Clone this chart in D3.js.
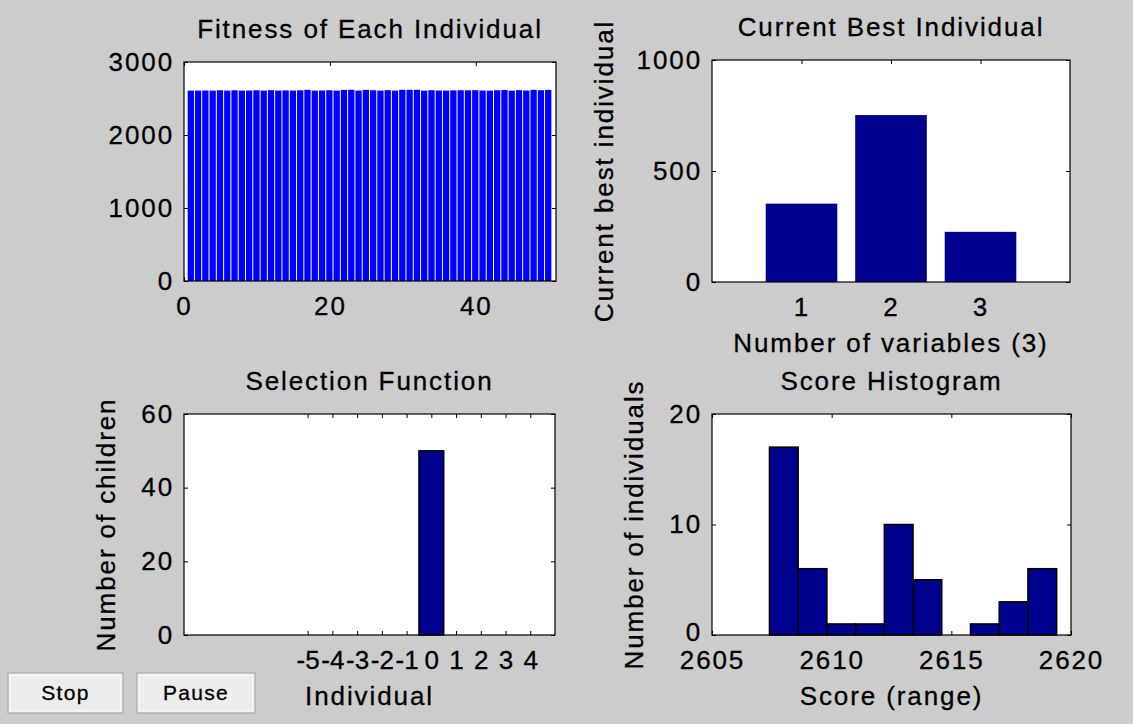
<!DOCTYPE html>
<html>
<head>
<meta charset="utf-8">
<script src="https://cdn.jsdelivr.net/npm/d3@7"></script>
<style>
  body { margin: 0; background: #cccccc; }
  svg { display: block; font-family: "Liberation Sans", Arial, sans-serif; }
  .lbl { font-size: 26px; letter-spacing: 1.9px; fill: #000; stroke: #000; stroke-width: 0.3px; }
  .tight .lbl { letter-spacing: 0; }
  .btn { font-size: 21px; letter-spacing: 1.3px; fill: #000; stroke: #000; stroke-width: 0.3px; }
</style>
</head>
<body>
<svg id="fig" width="1133" height="724"></svg>
<script>
const fitness = [
  2608.1, 2608.3, 2609.4, 2608.0, 2613.2, 2608.2, 2612.9, 2608.4, 2609.1, 2612.5,
  2608.0, 2614.1, 2608.2, 2610.6, 2608.5, 2613.0, 2619.1, 2608.1, 2609.6, 2612.8,
  2608.3, 2617.4, 2619.2, 2608.0, 2618.0, 2612.7, 2608.4, 2614.3, 2608.1, 2619.0,
  2618.9, 2619.3, 2608.2, 2613.1, 2609.2, 2608.0, 2611.7, 2613.3, 2612.6, 2614.0,
  2609.0, 2608.3, 2613.2, 2616.4, 2608.1, 2614.5, 2609.5, 2618.8, 2613.4, 2617.9
];
const fitnessTicksX = [0, 20, 40];
const fitnessTicksY = [0, 1000, 2000, 3000];

// current best individual
const bestVars = [1, 2, 3];
const bestValues = [353, 752, 226];
const bestTicksY = [0, 500, 1000];

// selection function
const selIndividual = [0];
const selChildren = [50];
const selTicksX = [-5, -4, -3, -2, -1, 0, 1, 2, 3, 4];
const selTicksY = [0, 20, 40, 60];

// score histogram
const scoreEdges = [2607.4, 2608.6, 2609.8, 2611.0, 2612.2, 2613.4, 2614.6, 2615.8, 2617.0, 2618.2, 2619.4];
const scoreCounts = [17, 6, 1, 1, 10, 5, 0, 1, 3, 6];
const scoreTicksX = [2605, 2610, 2615, 2620];
const scoreTicksY = [0, 10, 20];

const svg = d3.select('#fig');
const navy = '#00008f';
const tk = 4;

// draws one axes box (ticks on all four sides, MATLAB style) and returns scales + mark layer
function panel(p) {
  const {left, top, width, height} = p.box;
  const x = d3.scaleLinear().domain(p.xDomain).range([0, width]);
  const y = d3.scaleLinear().domain(p.yDomain).range([height, 0]);
  const g = svg.append('g').attr('transform', `translate(${left},${top})`);

  g.append('rect').attr('width', width).attr('height', height).attr('fill', '#fff');

  const fmt = d => String(d);
  const clean = sel => {
    sel.select('.domain').remove();
    sel.attr('font-size', null).attr('font-family', null);
    sel.selectAll('text').attr('class', 'lbl');
  };

  g.append('g').attr('transform', `translate(0,${height})`)
    .classed('tight', !!p.tightX)
    .call(d3.axisBottom(x).tickValues(p.xTicks).tickSize(-tk).tickSizeOuter(0)
      .tickPadding(16).tickFormat(fmt))
    .call(clean);
  g.append('g')
    .call(d3.axisTop(x).tickValues(p.xTicks).tickSize(-tk).tickSizeOuter(0).tickFormat(''))
    .call(clean);
  const yAxis = g.append('g')
    .call(d3.axisLeft(y).tickValues(p.yTicks).tickSize(-tk).tickSizeOuter(0)
      .tickPadding(10).tickFormat(fmt))
    .call(clean);
  // lift the lowest y label a little where it would touch the first x label
  if (p.liftZero) {
    yAxis.selectAll('.tick text').filter(d => d === p.yDomain[0]).attr('dy', '0.2em');
  }
  g.append('g').attr('transform', `translate(${width},0)`)
    .call(d3.axisRight(y).tickValues(p.yTicks).tickSize(-tk).tickSizeOuter(0).tickFormat(''))
    .call(clean);

  const marks = g.append('g');

  g.append('rect').attr('width', width).attr('height', height)
    .attr('fill', 'none').attr('stroke', '#000').attr('stroke-width', 1.2);

  g.append('text').attr('class', 'lbl')
    .attr('x', width / 2).attr('y', -24)
    .attr('text-anchor', 'middle')
    .text(p.title);

  if (p.xLabel) {
    g.append('text').attr('class', 'lbl')
      .attr('x', width / 2).attr('y', height + 70)
      .attr('text-anchor', 'middle')
      .text(p.xLabel);
  }
  if (p.yLabel) {
    g.append('text').attr('class', 'lbl')
      .attr('transform', `translate(${-p.yLabelOffset},${height / 2}) rotate(-90)`)
      .attr('text-anchor', 'middle')
      .text(p.yLabel);
  }
  return {x, y, marks};
}

// ---- Fitness of Each Individual
const p1 = panel({
  box: {left: 184, top: 62, width: 372, height: 219},
  xDomain: [0, 51], yDomain: [0, 3000],
  xTicks: fitnessTicksX, yTicks: fitnessTicksY,
  title: 'Fitness of Each Individual'
});
p1.marks.selectAll('rect')
  .data(fitness)
  .join('rect')
    .attr('x', (d, i) => p1.x(i + 0.5))
    .attr('width', p1.x(1) - p1.x(0) - 1)
    .attr('y', d => p1.y(d))
    .attr('height', d => p1.y(0) - p1.y(d))
    .attr('fill', '#0000ff');

// ---- Current Best Individual
const p2 = panel({
  box: {left: 712, top: 60, width: 358, height: 222},
  xDomain: [0, 4], yDomain: [0, 1000],
  xTicks: bestVars, yTicks: bestTicksY,
  title: 'Current Best Individual',
  xLabel: 'Number of variables (3)',
  yLabel: 'Current best individual', yLabelOffset: 99
});
p2.marks.selectAll('rect')
  .data(bestValues)
  .join('rect')
    .attr('x', (d, i) => p2.x(bestVars[i] - 0.4))
    .attr('width', p2.x(0.8) - p2.x(0))
    .attr('y', d => p2.y(d))
    .attr('height', d => p2.y(0) - p2.y(d))
    .attr('fill', navy);

// ---- Selection Function
const p3 = panel({
  box: {left: 184, top: 414, width: 371, height: 221},
  xDomain: [-10, 5], yDomain: [0, 60],
  xTicks: selTicksX, yTicks: selTicksY, tightX: true,
  title: 'Selection Function',
  xLabel: 'Individual',
  yLabel: 'Number of children', yLabelOffset: 69
});
p3.marks.selectAll('rect')
  .data(selChildren)
  .join('rect')
    .attr('x', (d, i) => p3.x(selIndividual[i] - 0.5))
    .attr('width', p3.x(1) - p3.x(0))
    .attr('y', d => p3.y(d))
    .attr('height', d => p3.y(0) - p3.y(d))
    .attr('fill', navy)
    .attr('stroke', '#000')
    .attr('stroke-width', 1.5);

// ---- Score Histogram
const p4 = panel({
  box: {left: 712, top: 414, width: 359, height: 221},
  xDomain: [2605, 2620], yDomain: [0, 20],
  xTicks: scoreTicksX, yTicks: scoreTicksY, liftZero: true,
  title: 'Score Histogram',
  xLabel: 'Score (range)',
  yLabel: 'Number of individuals', yLabelOffset: 69
});
p4.marks.selectAll('rect')
  .data(scoreCounts)
  .join('rect')
    .attr('x', (d, i) => p4.x(scoreEdges[i]))
    .attr('width', (d, i) => p4.x(scoreEdges[i + 1]) - p4.x(scoreEdges[i]))
    .attr('y', d => p4.y(d))
    .attr('height', d => p4.y(0) - p4.y(d))
    .attr('fill', navy)
    .attr('stroke', '#000')
    .attr('stroke-width', 1.5);

// ---- Stop / Pause buttons
const buttons = [
  {label: 'Stop', x: 8, w: 115},
  {label: 'Pause', x: 137, w: 118}
];
const btn = svg.selectAll('g.button')
  .data(buttons)
  .join('g')
    .attr('class', 'button')
    .attr('transform', d => `translate(${d.x},673)`);
btn.append('rect')
  .attr('width', d => d.w).attr('height', 40)
  .attr('fill', '#ededed')
  .attr('stroke', '#a9a9a9').attr('stroke-width', 1.2);
btn.append('rect')
  .attr('x', 2).attr('y', 2)
  .attr('width', d => d.w - 4).attr('height', 36)
  .attr('fill', 'none')
  .attr('stroke', '#fafafa').attr('stroke-width', 1);
btn.append('text')
  .attr('class', 'btn')
  .attr('x', d => d.w / 2).attr('y', 27)
  .attr('text-anchor', 'middle')
  .text(d => d.label);
</script>
</body>
</html>
